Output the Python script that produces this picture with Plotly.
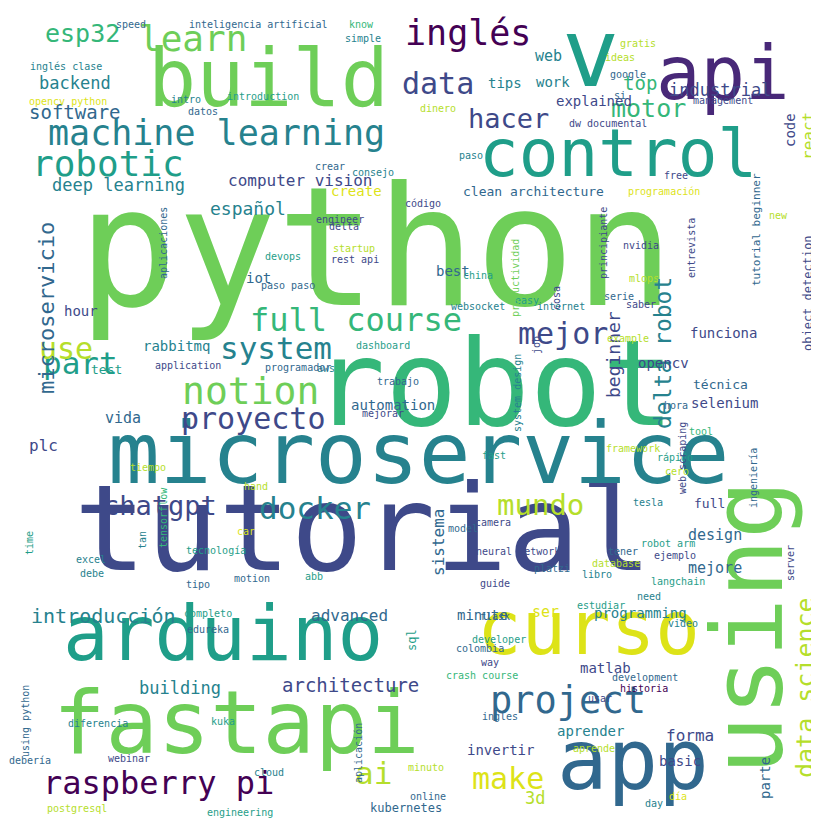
import plotly.graph_objects as go

# word cloud data: word, centre x, centre y (pixels, top-left origin), font size, colour, vertical flag
words = ["python", "tutorial", "robot", "microservice", "build", "api", "v", "control",
         "arduino", "fastapi", "curso", "app", "using", "machine learning", "robotic",
         "learn", "inglés", "data", "esp32", "backend", "software", "hacer", "motor",
         "top", "web", "work", "tips", "explained", "industrial", "full course", "system",
         "mejor", "part", "notion", "use", "proyecto", "computer vision", "español",
         "deep learning", "create", "clean architecture", "beginner", "delta robot",
         "data science", "object detection", "react", "code", "tutorial beginner",
         "opencv", "funciona", "microservicio", "docker", "chatgpt", "mundo",
         "introducción", "advanced", "building", "architecture", "project",
         "raspberry pi", "ai", "make", "invertir", "kubernetes", "aprender", "3d",
         "parte", "forma", "basic", "matlab", "minute", "ser", "programming", "design",
         "mejore", "full", "sistema", "sql", "selenium", "automation", "técnica", "plc",
         "vida", "rabbitmq", "hour", "test", "iot", "best",
         "speed", "inteligencia artificial", "know", "simple", "inglés clase",
         "opencv python", "intro", "datos", "introduction", "dinero", "si", "google",
         "ideas", "gratis", "management", "dw documental", "paso", "crear", "consejo",
         "código", "free", "programación", "new", "nvidia", "principiante", "entrevista",
         "mlops", "saber", "serie", "internet", "example", "easy", "job", "cosa",
         "china", "delta", "engineer", "startup", "rest api", "devops", "paso paso",
         "aplicaciones", "websocket", "dashboard", "application", "aws", "programador",
         "trabajo", "system design", "productividad", "mejorar", "tool", "framework",
         "fast", "hora", "rápido", "cero", "ingeniería", "web scraping", "tensorflow",
         "tiempo", "hand", "car", "tan", "tecnología", "motion", "time", "excel", "debe",
         "tipo", "abb", "model", "camera", "neural network", "tener", "langchain",
         "robot arm", "tesla", "database", "guide", "platzi", "libro", "ejemplo", "need",
         "estudiar", "flask", "completo", "edureka", "developer", "colombia", "video",
         "way", "crash course", "development", "historia", "using python", "diferencia",
         "ingles", "usar", "kuka", "aplicación", "aprende", "debería", "minuto",
         "webinar", "cloud", "online", "día", "day", "postgresql", "engineering", "server"]
xs = [368, 355, 485, 410, 260, 715, 582, 610, 215, 228, 580, 625, 740, 208, 100,
      185, 460, 430, 74, 67, 67, 500, 640, 632, 540, 545, 497, 586, 712, 348, 268,
      555, 72, 242, 58, 245, 292, 240, 110, 348, 525, 605, 655, 797, 800, 800, 782,
      748, 655, 715, 38, 307, 152, 532, 95, 341, 172, 342, 560, 150, 365, 500, 492,
      398, 582, 527, 757, 682, 672, 597, 474, 537, 632, 707, 707, 701, 430, 404,
      716, 385, 712, 35, 115, 168, 73, 98, 250, 445,
      123, 250, 353, 355, 58, 60, 178, 195, 255, 430, 612, 620, 612, 630, 715, 600,
      463, 322, 365, 415, 668, 656, 770, 633, 595, 683, 636, 633, 611, 553, 620,
      519, 528, 548, 470, 336, 332, 346, 347, 275, 280, 155, 470, 375, 180, 318, 290,
      390, 509, 507, 375, 693, 625, 486, 668, 667, 669, 745, 674, 155, 140, 248, 238,
      134, 208, 244, 21, 83, 84, 190, 306, 455, 485, 510, 615, 670, 660, 640, 608,
      487, 544, 589, 667, 641, 593, 487, 200, 200, 491, 472, 675, 482, 474, 637, 636,
      17, 90, 492, 592, 215, 350, 586, 22, 418, 121, 261, 420, 670, 646, 69, 232, 782]
ys = [240, 520, 375, 445, 70, 65, 45, 145, 625, 715, 620, 752, 620, 125, 155, 30,
      25, 75, 25, 75, 104, 110, 100, 75, 48, 74, 75, 93, 82, 312, 340, 325, 355,
      383, 340, 410, 172, 200, 177, 183, 183, 347, 345, 680, 285, 128, 122, 222,
      355, 325, 300, 500, 497, 497, 608, 607, 680, 677, 692, 775, 765, 770, 742,
      800, 723, 790, 770, 727, 753, 660, 607, 604, 605, 527, 560, 495, 535, 632,
      395, 397, 376, 437, 410, 338, 303, 361, 270, 263,
      16, 16, 16, 30, 58, 93, 91, 103, 88, 100, 87, 66, 49, 35, 92, 115, 147, 158,
      164, 195, 167, 183, 207, 237, 235, 240, 270, 296, 288, 298, 330, 292, 337,
      290, 267, 218, 211, 240, 251, 248, 277, 235, 298, 337, 357, 360, 359, 373,
      385, 270, 405, 423, 440, 447, 397, 449, 463, 470, 450, 510, 459, 478, 523,
      532, 542, 570, 535, 551, 565, 576, 568, 520, 514, 543, 543, 573, 535, 494,
      555, 575, 560, 566, 547, 588, 597, 608, 605, 621, 631, 640, 615, 654, 667,
      669, 680, 713, 715, 708, 690, 713, 745, 740, 752, 759, 750, 764, 788, 788,
      795, 800, 804, 555]
sizes = [165, 120, 120, 86, 80, 74, 95, 66, 76, 87, 74, 84, 98, 35, 36, 36, 35,
         30, 25, 17, 19, 27, 25, 19, 15, 14, 14, 14, 17, 32, 31, 30, 31, 38, 30, 30,
         16, 18, 17, 14, 13, 18, 23, 25, 12, 16, 14, 11, 14, 14, 22, 31, 27, 29, 20,
         16, 17, 19, 37, 32, 31, 30, 14, 12, 14, 17, 14, 16, 14, 14, 14, 15, 14, 15,
         15, 13, 16, 12, 14, 14, 13, 16, 15, 14, 14, 13, 14, 14,
         10, 10, 10, 10, 10, 10, 10, 10, 10, 10, 10, 10, 10, 10, 10, 10, 10, 10, 10,
         10, 10, 10, 10, 10, 10, 10, 10, 10, 10, 10, 10, 10, 10, 10, 10, 10, 10, 10,
         10, 10, 10, 10, 10, 10, 10, 10, 10, 10, 10, 10, 10, 10, 10, 10, 10, 10, 10,
         10, 10, 10, 10, 10, 10, 10, 10, 10, 10, 10, 10, 10, 10, 10, 10, 10, 10, 10,
         10, 10, 10, 10, 10, 10, 10, 10, 10, 10, 10, 10, 10, 10, 10, 10, 10, 10, 10,
         10, 10, 10, 10, 10, 10, 10, 10, 10, 10, 10, 10, 10, 10, 10, 10, 10, 10, 13]
palette = ["#440154", "#482878", "#3e4989", "#31688e", "#26828e", "#1f9e89",
           "#35b779", "#6ece58", "#b5de2b", "#dde318"]
color_idx = [7, 2, 6, 4, 7, 1, 5, 5, 5, 7, 9, 3, 7, 4, 5, 7, 0, 2, 6, 4, 3, 2, 6,
             6, 4, 4, 4, 2, 2, 6, 4, 2, 5, 7, 8, 2, 2, 4, 4, 9, 3, 2, 4, 8, 2, 8,
             2, 3, 2, 2, 3, 4, 2, 8, 4, 3, 4, 2, 3, 0, 8, 9, 2, 3, 4, 8, 3, 2, 2,
             2, 3, 9, 4, 3, 3, 2, 3, 5, 2, 3, 3, 2, 3, 4, 2, 5, 3, 3,
             3, 3, 6, 4, 4, 9, 4, 3, 5, 8, 3, 3, 8, 8, 2, 2, 4, 3, 4, 2, 2, 9, 8,
             2, 2, 2, 8, 2, 3, 4, 8, 5, 2, 2, 5, 2, 2, 8, 2, 5, 3, 3, 4, 5, 2, 4,
             3, 3, 4, 7, 2, 6, 8, 5, 3, 5, 8, 3, 2, 6, 8, 8, 9, 4, 5, 3, 5, 4, 4,
             3, 5, 3, 2, 2, 3, 5, 5, 4, 8, 2, 3, 4, 2, 4, 5, 3, 5, 3, 5, 3, 4, 2,
             6, 3, 0, 3, 4, 3, 2, 5, 3, 8, 3, 8, 2, 4, 3, 9, 4, 8, 5, 2, 2, 4, 3]
vertical = {"using", "beginner", "delta robot", "data science", "object detection",
            "react", "code", "tutorial beginner", "microservicio", "parte", "sistema",
            "sql", "principiante", "entrevista", "job", "cosa", "aplicaciones",
            "system design", "productividad", "ingeniería", "web scraping",
            "tensorflow", "tan", "time", "using python", "aplicación", "server"}

fig = go.Figure()
fig.add_trace(go.Scatter(x=[0, 819], y=[0, 819], mode="markers",
                         marker=dict(opacity=0), hoverinfo="skip"))

for i, w in enumerate(words):
    fig.add_annotation(x=xs[i], y=ys[i], text=w, showarrow=False,
                       xanchor="center", yanchor="middle",
                       textangle=-90 if w in vertical else 0,
                       font=dict(family="DejaVu Sans Mono", size=sizes[i],
                                 color=palette[color_idx[i % len(color_idx)]]))

fig.update_xaxes(range=[0, 819], visible=False)
fig.update_yaxes(range=[819, 0], visible=False)
fig.update_layout(width=819, height=819, margin=dict(l=0, r=0, t=0, b=0),
                  plot_bgcolor="white", paper_bgcolor="white", showlegend=False)
fig.write_html("out.html")
